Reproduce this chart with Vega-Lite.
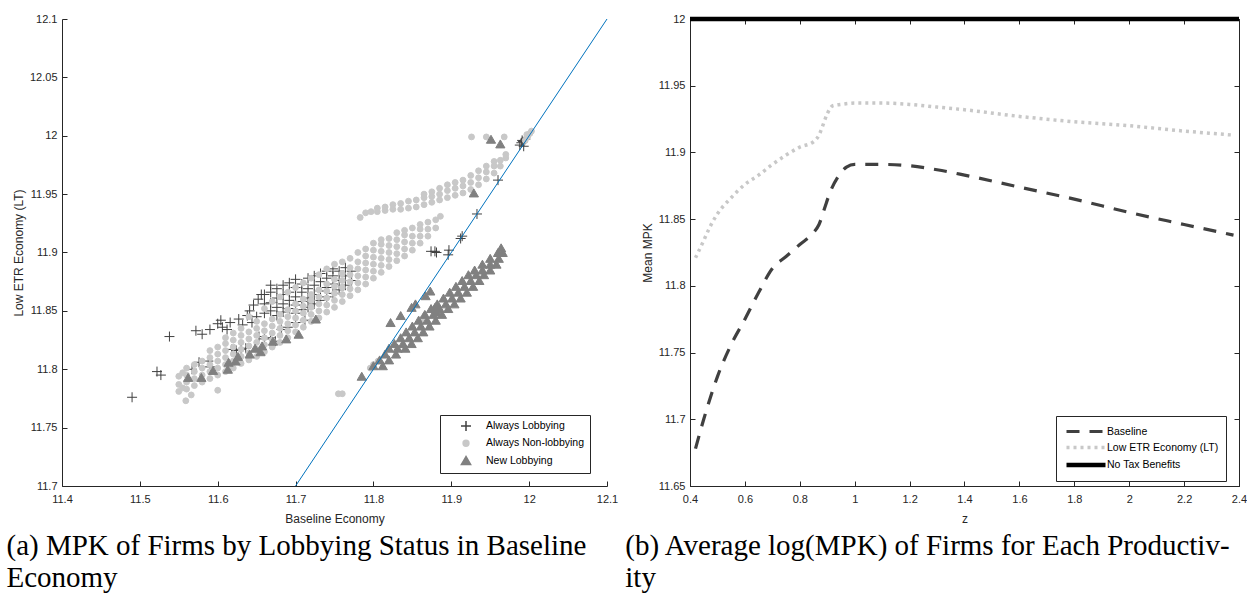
{
"$schema": "https://vega.github.io/schema/vega-lite/v6.json",
"background": "white",
"padding": {"left": 6, "top": 9, "right": 2, "bottom": 0},
"bounds": "flush",
"spacing": 83,
"resolve": {"scale": {"color": "independent", "stroke": "independent", "shape": "independent", "size": "independent", "strokeDash": "independent", "strokeWidth": "independent"}, "legend": {"color": "independent", "stroke": "independent", "shape": "independent", "size": "independent", "strokeDash": "independent", "strokeWidth": "independent"}},
"config": {
  "view": {"stroke": null},
  "font": "Liberation Sans",
  "axis": {"tickSize": -5, "labelPadding": 10, "domainColor": "#262626", "tickColor": "#262626", "labelFont": "Liberation Sans", "titleFont": "Liberation Sans", "labelFontSize": 11, "titleFontSize": 12, "titleFontWeight": "normal", "labelColor": "#262626", "titleColor": "#262626", "grid": false, "labelFlush": false, "labelOverlap": false},
  "axisX": {"labelPadding": 12, "titlePadding": 9},
  "axisY": {"titlePadding": 4},
  "legend": {"strokeColor": "#262626", "fillColor": "white", "labelFont": "Liberation Sans", "labelFontSize": 10.5, "labelColor": "black"}
},
"datasets": {
"sc": [
{"x":11.490,"y":11.776,"g":"L"},{"x":11.522,"y":11.798,"g":"L"},{"x":11.527,"y":11.795,"g":"L"},{"x":11.538,"y":11.828,"g":"L"},{"x":11.567,"y":11.800,"g":"L"},{"x":11.572,"y":11.833,"g":"L"},{"x":11.580,"y":11.830,"g":"L"},{"x":11.576,"y":11.806,"g":"L"},{"x":11.588,"y":11.807,"g":"L"},{"x":11.590,"y":11.802,"g":"L"},{"x":11.590,"y":11.834,"g":"L"},{"x":11.600,"y":11.839,"g":"L"},{"x":11.604,"y":11.842,"g":"L"},{"x":11.606,"y":11.836,"g":"L"},{"x":11.612,"y":11.834,"g":"L"},{"x":11.616,"y":11.840,"g":"L"},{"x":11.618,"y":11.817,"g":"L"},{"x":11.624,"y":11.816,"g":"L"},{"x":11.630,"y":11.817,"g":"L"},{"x":11.636,"y":11.818,"g":"L"},{"x":11.627,"y":11.843,"g":"L"},{"x":11.632,"y":11.838,"g":"L"},{"x":11.638,"y":11.846,"g":"L"},{"x":11.644,"y":11.840,"g":"L"},{"x":11.641,"y":11.850,"g":"L"},{"x":11.646,"y":11.855,"g":"L"},{"x":11.650,"y":11.845,"g":"L"},{"x":11.652,"y":11.860,"g":"L"},{"x":11.656,"y":11.864,"g":"L"},{"x":11.653,"y":11.828,"g":"L"},{"x":11.660,"y":11.826,"g":"L"},{"x":11.668,"y":11.827,"g":"L"},{"x":11.674,"y":11.824,"g":"L"},{"x":11.682,"y":11.834,"g":"L"},{"x":11.690,"y":11.836,"g":"L"},{"x":11.700,"y":11.840,"g":"L"},{"x":11.712,"y":11.842,"g":"L"},
{"x":11.660,"y":11.848,"g":"L"},{"x":11.660,"y":11.856,"g":"L"},{"x":11.660,"y":11.864,"g":"L"},
{"x":11.668,"y":11.850,"g":"L"},{"x":11.668,"y":11.857,"g":"L"},{"x":11.668,"y":11.866,"g":"L"},{"x":11.668,"y":11.872,"g":"L"},
{"x":11.676,"y":11.846,"g":"L"},{"x":11.676,"y":11.853,"g":"L"},{"x":11.676,"y":11.861,"g":"L"},{"x":11.676,"y":11.869,"g":"L"},
{"x":11.684,"y":11.849,"g":"L"},{"x":11.684,"y":11.856,"g":"L"},{"x":11.684,"y":11.864,"g":"L"},{"x":11.684,"y":11.872,"g":"L"},
{"x":11.692,"y":11.852,"g":"L"},{"x":11.692,"y":11.859,"g":"L"},{"x":11.692,"y":11.866,"g":"L"},{"x":11.692,"y":11.874,"g":"L"},
{"x":11.700,"y":11.848,"g":"L"},{"x":11.700,"y":11.855,"g":"L"},{"x":11.700,"y":11.862,"g":"L"},{"x":11.700,"y":11.870,"g":"L"},{"x":11.700,"y":11.877,"g":"L"},
{"x":11.708,"y":11.851,"g":"L"},{"x":11.708,"y":11.858,"g":"L"},{"x":11.708,"y":11.866,"g":"L"},{"x":11.708,"y":11.873,"g":"L"},
{"x":11.716,"y":11.853,"g":"L"},{"x":11.716,"y":11.861,"g":"L"},{"x":11.716,"y":11.869,"g":"L"},{"x":11.716,"y":11.878,"g":"L"},
{"x":11.724,"y":11.856,"g":"L"},{"x":11.724,"y":11.864,"g":"L"},{"x":11.724,"y":11.872,"g":"L"},{"x":11.724,"y":11.880,"g":"L"},
{"x":11.732,"y":11.859,"g":"L"},{"x":11.732,"y":11.867,"g":"L"},{"x":11.732,"y":11.875,"g":"L"},{"x":11.732,"y":11.882,"g":"L"},
{"x":11.740,"y":11.862,"g":"L"},{"x":11.740,"y":11.870,"g":"L"},{"x":11.740,"y":11.878,"g":"L"},{"x":11.740,"y":11.884,"g":"L"},
{"x":11.748,"y":11.865,"g":"L"},{"x":11.748,"y":11.873,"g":"L"},{"x":11.748,"y":11.880,"g":"L"},{"x":11.748,"y":11.886,"g":"L"},
{"x":11.756,"y":11.868,"g":"L"},{"x":11.756,"y":11.876,"g":"L"},{"x":11.756,"y":11.884,"g":"L"},
{"x":11.764,"y":11.872,"g":"L"},{"x":11.764,"y":11.880,"g":"L"},{"x":11.764,"y":11.887,"g":"L"},
{"x":11.772,"y":11.876,"g":"L"},{"x":11.772,"y":11.884,"g":"L"},
{"x":11.874,"y":11.901,"g":"L"},{"x":11.879,"y":11.901,"g":"L"},{"x":11.881,"y":11.900,"g":"L"},{"x":11.896,"y":11.898,"g":"L"},{"x":11.897,"y":11.902,"g":"L"},{"x":11.912,"y":11.912,"g":"L"},{"x":11.914,"y":11.914,"g":"L"},{"x":11.933,"y":11.933,"g":"L"},{"x":11.960,"y":11.962,"g":"L"},{"x":11.988,"y":11.992,"g":"L"},{"x":11.990,"y":11.994,"g":"L"},{"x":11.992,"y":11.995,"g":"L"},{"x":11.993,"y":11.991,"g":"L"},{"x":11.995,"y":11.997,"g":"L"},{"x":11.991,"y":11.996,"g":"L"},
{"x":11.550,"y":11.781,"g":"N"},{"x":11.550,"y":11.787,"g":"N"},{"x":11.550,"y":11.794,"g":"N"},
{"x":11.555,"y":11.784,"g":"N"},{"x":11.555,"y":11.797,"g":"N"},{"x":11.559,"y":11.773,"g":"N"},
{"x":11.560,"y":11.783,"g":"N"},{"x":11.560,"y":11.789,"g":"N"},{"x":11.560,"y":11.795,"g":"N"},{"x":11.560,"y":11.801,"g":"N"},{"x":11.566,"y":11.778,"g":"N"},
{"x":11.570,"y":11.786,"g":"N"},{"x":11.570,"y":11.792,"g":"N"},{"x":11.570,"y":11.798,"g":"N"},{"x":11.570,"y":11.804,"g":"N"},
{"x":11.580,"y":11.789,"g":"N"},{"x":11.580,"y":11.795,"g":"N"},{"x":11.580,"y":11.801,"g":"N"},{"x":11.580,"y":11.807,"g":"N"},
{"x":11.590,"y":11.792,"g":"N"},{"x":11.590,"y":11.798,"g":"N"},{"x":11.590,"y":11.804,"g":"N"},{"x":11.590,"y":11.810,"g":"N"},{"x":11.590,"y":11.816,"g":"N"},
{"x":11.600,"y":11.782,"g":"N"},{"x":11.600,"y":11.795,"g":"N"},{"x":11.600,"y":11.801,"g":"N"},{"x":11.600,"y":11.807,"g":"N"},{"x":11.600,"y":11.813,"g":"N"},{"x":11.600,"y":11.819,"g":"N"},
{"x":11.610,"y":11.798,"g":"N"},{"x":11.610,"y":11.804,"g":"N"},{"x":11.610,"y":11.810,"g":"N"},{"x":11.610,"y":11.816,"g":"N"},{"x":11.610,"y":11.822,"g":"N"},{"x":11.610,"y":11.827,"g":"N"},
{"x":11.620,"y":11.801,"g":"N"},{"x":11.620,"y":11.807,"g":"N"},{"x":11.620,"y":11.813,"g":"N"},{"x":11.620,"y":11.819,"g":"N"},{"x":11.620,"y":11.825,"g":"N"},{"x":11.620,"y":11.831,"g":"N"},
{"x":11.630,"y":11.805,"g":"N"},{"x":11.630,"y":11.811,"g":"N"},{"x":11.630,"y":11.817,"g":"N"},{"x":11.630,"y":11.823,"g":"N"},{"x":11.630,"y":11.829,"g":"N"},{"x":11.630,"y":11.835,"g":"N"},
{"x":11.640,"y":11.808,"g":"N"},{"x":11.640,"y":11.814,"g":"N"},{"x":11.640,"y":11.820,"g":"N"},{"x":11.640,"y":11.826,"g":"N"},{"x":11.640,"y":11.832,"g":"N"},{"x":11.640,"y":11.845,"g":"N"},
{"x":11.650,"y":11.811,"g":"N"},{"x":11.650,"y":11.817,"g":"N"},{"x":11.650,"y":11.823,"g":"N"},{"x":11.650,"y":11.829,"g":"N"},{"x":11.650,"y":11.835,"g":"N"},{"x":11.650,"y":11.841,"g":"N"},
{"x":11.660,"y":11.815,"g":"N"},{"x":11.660,"y":11.821,"g":"N"},{"x":11.660,"y":11.827,"g":"N"},{"x":11.660,"y":11.833,"g":"N"},{"x":11.660,"y":11.839,"g":"N"},{"x":11.660,"y":11.852,"g":"N"},
{"x":11.670,"y":11.819,"g":"N"},{"x":11.670,"y":11.825,"g":"N"},{"x":11.670,"y":11.831,"g":"N"},{"x":11.670,"y":11.837,"g":"N"},{"x":11.670,"y":11.843,"g":"N"},{"x":11.670,"y":11.858,"g":"N"},
{"x":11.680,"y":11.823,"g":"N"},{"x":11.680,"y":11.829,"g":"N"},{"x":11.680,"y":11.835,"g":"N"},{"x":11.680,"y":11.841,"g":"N"},{"x":11.680,"y":11.847,"g":"N"},{"x":11.680,"y":11.862,"g":"N"},
{"x":11.690,"y":11.827,"g":"N"},{"x":11.690,"y":11.833,"g":"N"},{"x":11.690,"y":11.839,"g":"N"},{"x":11.690,"y":11.845,"g":"N"},{"x":11.690,"y":11.851,"g":"N"},{"x":11.690,"y":11.866,"g":"N"},
{"x":11.700,"y":11.832,"g":"N"},{"x":11.700,"y":11.838,"g":"N"},{"x":11.700,"y":11.844,"g":"N"},{"x":11.700,"y":11.850,"g":"N"},{"x":11.700,"y":11.856,"g":"N"},{"x":11.700,"y":11.870,"g":"N"},
{"x":11.710,"y":11.836,"g":"N"},{"x":11.710,"y":11.842,"g":"N"},{"x":11.710,"y":11.848,"g":"N"},{"x":11.710,"y":11.854,"g":"N"},{"x":11.710,"y":11.860,"g":"N"},{"x":11.710,"y":11.874,"g":"N"},
{"x":11.720,"y":11.841,"g":"N"},{"x":11.720,"y":11.847,"g":"N"},{"x":11.720,"y":11.853,"g":"N"},{"x":11.720,"y":11.859,"g":"N"},{"x":11.720,"y":11.864,"g":"N"},{"x":11.720,"y":11.878,"g":"N"},
{"x":11.730,"y":11.844,"g":"N"},{"x":11.730,"y":11.850,"g":"N"},{"x":11.730,"y":11.856,"g":"N"},{"x":11.730,"y":11.862,"g":"N"},{"x":11.730,"y":11.868,"g":"N"},{"x":11.730,"y":11.881,"g":"N"},
{"x":11.740,"y":11.849,"g":"N"},{"x":11.740,"y":11.855,"g":"N"},{"x":11.740,"y":11.861,"g":"N"},{"x":11.740,"y":11.867,"g":"N"},{"x":11.740,"y":11.873,"g":"N"},{"x":11.740,"y":11.886,"g":"N"},
{"x":11.750,"y":11.853,"g":"N"},{"x":11.750,"y":11.859,"g":"N"},{"x":11.750,"y":11.865,"g":"N"},{"x":11.750,"y":11.871,"g":"N"},{"x":11.750,"y":11.877,"g":"N"},{"x":11.750,"y":11.890,"g":"N"},
{"x":11.760,"y":11.858,"g":"N"},{"x":11.760,"y":11.864,"g":"N"},{"x":11.760,"y":11.870,"g":"N"},{"x":11.760,"y":11.876,"g":"N"},{"x":11.760,"y":11.882,"g":"N"},{"x":11.760,"y":11.892,"g":"N"},
{"x":11.770,"y":11.863,"g":"N"},{"x":11.770,"y":11.869,"g":"N"},{"x":11.770,"y":11.875,"g":"N"},{"x":11.770,"y":11.881,"g":"N"},{"x":11.770,"y":11.887,"g":"N"},{"x":11.770,"y":11.895,"g":"N"},
{"x":11.780,"y":11.868,"g":"N"},{"x":11.780,"y":11.874,"g":"N"},{"x":11.780,"y":11.880,"g":"N"},{"x":11.780,"y":11.886,"g":"N"},{"x":11.780,"y":11.892,"g":"N"},{"x":11.780,"y":11.900,"g":"N"},
{"x":11.790,"y":11.873,"g":"N"},{"x":11.790,"y":11.879,"g":"N"},{"x":11.790,"y":11.885,"g":"N"},{"x":11.790,"y":11.891,"g":"N"},{"x":11.790,"y":11.897,"g":"N"},{"x":11.790,"y":11.903,"g":"N"},
{"x":11.800,"y":11.878,"g":"N"},{"x":11.800,"y":11.884,"g":"N"},{"x":11.800,"y":11.890,"g":"N"},{"x":11.800,"y":11.896,"g":"N"},{"x":11.800,"y":11.902,"g":"N"},{"x":11.800,"y":11.908,"g":"N"},
{"x":11.810,"y":11.883,"g":"N"},{"x":11.810,"y":11.889,"g":"N"},{"x":11.810,"y":11.895,"g":"N"},{"x":11.810,"y":11.901,"g":"N"},{"x":11.810,"y":11.907,"g":"N"},{"x":11.810,"y":11.911,"g":"N"},
{"x":11.820,"y":11.888,"g":"N"},{"x":11.820,"y":11.894,"g":"N"},{"x":11.820,"y":11.900,"g":"N"},{"x":11.820,"y":11.906,"g":"N"},{"x":11.820,"y":11.912,"g":"N"},
{"x":11.830,"y":11.893,"g":"N"},{"x":11.830,"y":11.899,"g":"N"},{"x":11.830,"y":11.905,"g":"N"},{"x":11.830,"y":11.911,"g":"N"},{"x":11.830,"y":11.917,"g":"N"},
{"x":11.840,"y":11.897,"g":"N"},{"x":11.840,"y":11.903,"g":"N"},{"x":11.840,"y":11.909,"g":"N"},{"x":11.840,"y":11.915,"g":"N"},{"x":11.840,"y":11.919,"g":"N"},
{"x":11.850,"y":11.902,"g":"N"},{"x":11.850,"y":11.908,"g":"N"},{"x":11.850,"y":11.914,"g":"N"},{"x":11.850,"y":11.921,"g":"N"},
{"x":11.860,"y":11.908,"g":"N"},{"x":11.860,"y":11.914,"g":"N"},{"x":11.860,"y":11.920,"g":"N"},{"x":11.860,"y":11.924,"g":"N"},
{"x":11.870,"y":11.914,"g":"N"},{"x":11.870,"y":11.920,"g":"N"},{"x":11.870,"y":11.926,"g":"N"},
{"x":11.880,"y":11.921,"g":"N"},{"x":11.880,"y":11.928,"g":"N"},{"x":11.886,"y":11.931,"g":"N"},
{"x":11.755,"y":11.779,"g":"N"},{"x":11.760,"y":11.779,"g":"N"},{"x":11.796,"y":11.801,"g":"N"},{"x":11.800,"y":11.804,"g":"N"},{"x":11.806,"y":11.807,"g":"N"},{"x":11.862,"y":11.843,"g":"N"},{"x":11.866,"y":11.846,"g":"N"},
{"x":11.783,"y":11.930,"g":"N"},{"x":11.790,"y":11.934,"g":"N"},{"x":11.797,"y":11.935,"g":"N"},
{"x":11.805,"y":11.935,"g":"N"},{"x":11.805,"y":11.938,"g":"N"},{"x":11.815,"y":11.936,"g":"N"},{"x":11.815,"y":11.939,"g":"N"},
{"x":11.825,"y":11.937,"g":"N"},{"x":11.825,"y":11.941,"g":"N"},{"x":11.835,"y":11.937,"g":"N"},{"x":11.835,"y":11.942,"g":"N"},
{"x":11.845,"y":11.938,"g":"N"},{"x":11.845,"y":11.944,"g":"N"},{"x":11.855,"y":11.939,"g":"N"},{"x":11.855,"y":11.945,"g":"N"},
{"x":11.865,"y":11.941,"g":"N"},{"x":11.865,"y":11.947,"g":"N"},{"x":11.865,"y":11.950,"g":"N"},
{"x":11.875,"y":11.943,"g":"N"},{"x":11.875,"y":11.948,"g":"N"},{"x":11.875,"y":11.952,"g":"N"},
{"x":11.885,"y":11.945,"g":"N"},{"x":11.885,"y":11.950,"g":"N"},{"x":11.885,"y":11.955,"g":"N"},
{"x":11.895,"y":11.947,"g":"N"},{"x":11.895,"y":11.953,"g":"N"},{"x":11.895,"y":11.958,"g":"N"},
{"x":11.905,"y":11.949,"g":"N"},{"x":11.905,"y":11.955,"g":"N"},{"x":11.905,"y":11.960,"g":"N"},
{"x":11.915,"y":11.951,"g":"N"},{"x":11.915,"y":11.957,"g":"N"},{"x":11.915,"y":11.962,"g":"N"},
{"x":11.925,"y":11.954,"g":"N"},{"x":11.925,"y":11.960,"g":"N"},{"x":11.925,"y":11.966,"g":"N"},
{"x":11.935,"y":11.958,"g":"N"},{"x":11.935,"y":11.964,"g":"N"},{"x":11.935,"y":11.970,"g":"N"},
{"x":11.945,"y":11.963,"g":"N"},{"x":11.945,"y":11.969,"g":"N"},{"x":11.945,"y":11.974,"g":"N"},
{"x":11.955,"y":11.968,"g":"N"},{"x":11.955,"y":11.974,"g":"N"},{"x":11.955,"y":11.978,"g":"N"},
{"x":11.963,"y":11.974,"g":"N"},{"x":11.963,"y":11.979,"g":"N"},{"x":11.970,"y":11.981,"g":"N"},{"x":11.970,"y":11.984,"g":"N"},
{"x":11.926,"y":11.999,"g":"N"},{"x":11.945,"y":11.999,"g":"N"},{"x":11.968,"y":11.999,"g":"N"},{"x":11.995,"y":11.996,"g":"N"},{"x":11.998,"y":11.999,"g":"N"},{"x":12.001,"y":12.002,"g":"N"},{"x":12.003,"y":12.004,"g":"N"},{"x":11.997,"y":12.001,"g":"N"},
{"x":11.562,"y":11.793,"g":"T"},{"x":11.579,"y":11.793,"g":"T"},{"x":11.594,"y":11.799,"g":"T"},{"x":11.613,"y":11.800,"g":"T"},{"x":11.614,"y":11.806,"g":"T"},{"x":11.623,"y":11.807,"g":"T"},{"x":11.626,"y":11.811,"g":"T"},{"x":11.641,"y":11.813,"g":"T"},{"x":11.648,"y":11.818,"g":"T"},{"x":11.655,"y":11.815,"g":"T"},{"x":11.657,"y":11.820,"g":"T"},{"x":11.671,"y":11.824,"g":"T"},{"x":11.688,"y":11.826,"g":"T"},{"x":11.704,"y":11.830,"g":"T"},{"x":11.726,"y":11.843,"g":"T"},
{"x":11.785,"y":11.794,"g":"T"},{"x":11.822,"y":11.840,"g":"T"},{"x":11.835,"y":11.846,"g":"T"},{"x":11.849,"y":11.853,"g":"T"},{"x":11.854,"y":11.856,"g":"T"},{"x":11.867,"y":11.863,"g":"T"},{"x":11.873,"y":11.867,"g":"T"},{"x":11.879,"y":11.853,"g":"T"},{"x":11.881,"y":11.849,"g":"T"},{"x":11.929,"y":11.951,"g":"T"},{"x":11.951,"y":11.997,"g":"T"},{"x":11.963,"y":11.993,"g":"T"},
{"x":11.800,"y":11.803,"g":"T"},{"x":11.812,"y":11.803,"g":"T"},
{"x":11.808,"y":11.808,"g":"T"},{"x":11.820,"y":11.808,"g":"T"},
{"x":11.815,"y":11.813,"g":"T"},{"x":11.829,"y":11.813,"g":"T"},
{"x":11.820,"y":11.818,"g":"T"},{"x":11.831,"y":11.818,"g":"T"},{"x":11.841,"y":11.818,"g":"T"},
{"x":11.827,"y":11.822,"g":"T"},{"x":11.838,"y":11.822,"g":"T"},{"x":11.849,"y":11.822,"g":"T"},
{"x":11.835,"y":11.827,"g":"T"},{"x":11.846,"y":11.827,"g":"T"},{"x":11.857,"y":11.827,"g":"T"},
{"x":11.842,"y":11.832,"g":"T"},{"x":11.853,"y":11.832,"g":"T"},{"x":11.864,"y":11.832,"g":"T"},
{"x":11.850,"y":11.837,"g":"T"},{"x":11.861,"y":11.837,"g":"T"},{"x":11.872,"y":11.837,"g":"T"},
{"x":11.858,"y":11.842,"g":"T"},{"x":11.869,"y":11.842,"g":"T"},{"x":11.880,"y":11.842,"g":"T"},
{"x":11.866,"y":11.847,"g":"T"},{"x":11.877,"y":11.847,"g":"T"},{"x":11.888,"y":11.847,"g":"T"},
{"x":11.874,"y":11.852,"g":"T"},{"x":11.885,"y":11.852,"g":"T"},{"x":11.896,"y":11.852,"g":"T"},
{"x":11.882,"y":11.856,"g":"T"},{"x":11.893,"y":11.856,"g":"T"},{"x":11.904,"y":11.856,"g":"T"},
{"x":11.890,"y":11.861,"g":"T"},{"x":11.901,"y":11.861,"g":"T"},{"x":11.912,"y":11.861,"g":"T"},
{"x":11.898,"y":11.866,"g":"T"},{"x":11.909,"y":11.866,"g":"T"},{"x":11.920,"y":11.866,"g":"T"},
{"x":11.906,"y":11.871,"g":"T"},{"x":11.917,"y":11.871,"g":"T"},{"x":11.928,"y":11.871,"g":"T"},
{"x":11.914,"y":11.876,"g":"T"},{"x":11.925,"y":11.876,"g":"T"},{"x":11.936,"y":11.876,"g":"T"},
{"x":11.922,"y":11.881,"g":"T"},{"x":11.932,"y":11.881,"g":"T"},{"x":11.942,"y":11.881,"g":"T"},
{"x":11.930,"y":11.885,"g":"T"},{"x":11.940,"y":11.885,"g":"T"},{"x":11.950,"y":11.885,"g":"T"},
{"x":11.940,"y":11.890,"g":"T"},{"x":11.950,"y":11.890,"g":"T"},{"x":11.958,"y":11.890,"g":"T"},
{"x":11.950,"y":11.895,"g":"T"},{"x":11.961,"y":11.895,"g":"T"},
{"x":11.960,"y":11.900,"g":"T"},{"x":11.966,"y":11.900,"g":"T"},{"x":11.964,"y":11.904,"g":"T"}
],
"ln": [
{"z":0.42,"v":11.678,"s":"B"},{"z":0.45,"v":11.700,"s":"B"},{"z":0.5,"v":11.732,"s":"B"},{"z":0.55,"v":11.756,"s":"B"},{"z":0.6,"v":11.775,"s":"B"},{"z":0.65,"v":11.795,"s":"B"},{"z":0.7,"v":11.813,"s":"B"},{"z":0.75,"v":11.822,"s":"B"},{"z":0.8,"v":11.831,"s":"B"},{"z":0.85,"v":11.840,"s":"B"},{"z":0.87,"v":11.846,"s":"B"},{"z":0.89,"v":11.858,"s":"B"},{"z":0.91,"v":11.870,"s":"B"},{"z":0.94,"v":11.882,"s":"B"},{"z":0.97,"v":11.889,"s":"B"},{"z":1.0,"v":11.891,"s":"B"},{"z":1.1,"v":11.891,"s":"B"},{"z":1.2,"v":11.890,"s":"B"},{"z":1.3,"v":11.887,"s":"B"},{"z":1.4,"v":11.883,"s":"B"},{"z":1.6,"v":11.874,"s":"B"},{"z":1.8,"v":11.865,"s":"B"},{"z":2.0,"v":11.855,"s":"B"},{"z":2.2,"v":11.846,"s":"B"},{"z":2.38,"v":11.838,"s":"B"},
{"z":0.42,"v":11.821,"s":"E"},{"z":0.45,"v":11.834,"s":"E"},{"z":0.47,"v":11.843,"s":"E"},{"z":0.5,"v":11.854,"s":"E"},{"z":0.55,"v":11.866,"s":"E"},{"z":0.6,"v":11.876,"s":"E"},{"z":0.65,"v":11.883,"s":"E"},{"z":0.7,"v":11.891,"s":"E"},{"z":0.75,"v":11.898,"s":"E"},{"z":0.8,"v":11.904,"s":"E"},{"z":0.85,"v":11.908,"s":"E"},{"z":0.87,"v":11.913,"s":"E"},{"z":0.88,"v":11.918,"s":"E"},{"z":0.9,"v":11.929,"s":"E"},{"z":0.92,"v":11.935,"s":"E"},{"z":0.95,"v":11.936,"s":"E"},{"z":1.0,"v":11.937,"s":"E"},{"z":1.1,"v":11.937,"s":"E"},{"z":1.2,"v":11.936,"s":"E"},{"z":1.3,"v":11.934,"s":"E"},{"z":1.4,"v":11.932,"s":"E"},{"z":1.6,"v":11.927,"s":"E"},{"z":1.8,"v":11.923,"s":"E"},{"z":2.0,"v":11.920,"s":"E"},{"z":2.2,"v":11.916,"s":"E"},{"z":2.38,"v":11.913,"s":"E"},
{"z":0.4,"v":12,"s":"X"},{"z":2.4,"v":12,"s":"X"}
]
},
"hconcat": [
{
  "width": 545, "height": 467,
  "title": {"text": ["(a) MPK of Firms by Lobbying Status in Baseline", "Economy"], "orient": "bottom", "anchor": "start", "frame": "bounds", "font": "Liberation Serif", "fontSize": 29, "fontWeight": "normal", "color": "black", "lineHeight": 32, "offset": 8, "dx": -6},
  "layer": [
    {
      "data": {"name": "sc"},
      "mark": {"type": "point", "filled": true, "opacity": 1, "strokeWidth": 1},
      "encoding": {
        "x": {"field": "x", "type": "quantitative", "scale": {"domain": [11.4, 12.1], "nice": false, "zero": false}, "axis": {"values": [11.4, 11.5, 11.6, 11.7, 11.8, 11.9, 12, 12.1], "format": "~g", "title": "Baseline Economy"}},
        "y": {"field": "y", "type": "quantitative", "scale": {"domain": [11.7, 12.1], "nice": false, "zero": false}, "axis": {"values": [11.7, 11.75, 11.8, 11.85, 11.9, 11.95, 12, 12.05, 12.1], "format": "~g", "title": "Low ETR Economy (LT)"}},
        "color": {"field": "g", "type": "nominal", "scale": {"domain": ["L", "N", "T"], "range": ["#404040", "#c8c8c8", "#808080"]},
          "legend": {"title": null, "orient": "none", "legendX": 378, "legendY": 396, "labelExpr": "datum.label == 'L' ? 'Always Lobbying' : datum.label == 'N' ? 'Always Non-lobbying' : 'New Lobbying'", "padding": 5, "symbolOffset": 15, "labelOffset": 14, "rowPadding": 3}},
        "stroke": {"field": "g", "type": "nominal", "scale": {"domain": ["L", "N", "T"], "range": ["#404040", "#c8c8c8", "#808080"]}},
        "shape": {"field": "g", "type": "nominal", "scale": {"domain": ["L", "N", "T"], "range": ["M-1,0H1M0,-1V1", "circle", "triangle-up"]}},
        "size": {"field": "g", "type": "nominal", "scale": {"type": "ordinal", "domain": ["L", "N", "T"], "range": [100, 34, 85]}}
      }
    },
    {
      "data": {"values": [{"x": 11.7, "y": 11.7}, {"x": 12.1, "y": 12.1}]},
      "mark": {"type": "line", "color": "#0072BD", "strokeWidth": 1},
      "encoding": {"x": {"field": "x", "type": "quantitative"}, "y": {"field": "y", "type": "quantitative"}}
    }
  ]
},
{
  "width": 549, "height": 467,
  "view": {"stroke": "#262626", "strokeWidth": 1},
  "title": {"text": ["(b) Average log(MPK) of Firms for Each Productiv-", "ity"], "orient": "bottom", "anchor": "start", "frame": "bounds", "font": "Liberation Serif", "fontSize": 29, "fontWeight": "normal", "color": "black", "lineHeight": 32, "offset": 8, "dx": -16},
  "resolve": {"axis": {"x": "independent", "y": "independent"}},
  "layer": [
    {
      "data": {"name": "ln"},
      "mark": {"type": "line", "interpolate": "monotone", "strokeCap": "butt"},
      "encoding": {
        "x": {"field": "z", "type": "quantitative", "scale": {"domain": [0.4, 2.4], "nice": false, "zero": false}, "axis": {"values": [0.4, 0.6, 0.8, 1, 1.2, 1.4, 1.6, 1.8, 2, 2.2, 2.4], "format": "~g", "title": "z"}},
        "y": {"field": "v", "type": "quantitative", "scale": {"domain": [11.65, 12], "nice": false, "zero": false}, "axis": {"values": [11.65, 11.7, 11.75, 11.8, 11.85, 11.9, 11.95, 12], "format": "~g", "title": "Mean MPK"}},
        "color": {"field": "s", "type": "nominal", "scale": {"domain": ["B", "E", "X"], "range": ["#404040", "#c8c8c8", "#000000"]},
          "legend": {"title": null, "orient": "none", "legendX": 366, "legendY": 397, "labelExpr": "datum.label == 'B' ? 'Baseline' : datum.label == 'E' ? 'Low ETR Economy (LT)' : 'No Tax Benefits'", "symbolType": "M-3,0H3", "symbolSize": 169, "symbolOffset": 14, "padding": 7, "labelOffset": 12, "rowPadding": 1}},
        "strokeDash": {"field": "s", "type": "nominal", "scale": {"domain": ["B", "E", "X"], "range": [[13, 10], [3, 4], [1, 0]]}},
        "strokeWidth": {"field": "s", "type": "nominal", "scale": {"type": "ordinal", "domain": ["B", "E", "X"], "range": [3.2, 3.5, 4.5]}}
      }
    },
    {
      "data": {"name": "ln"},
      "mark": {"type": "line", "opacity": 0},
      "encoding": {
        "x": {"field": "z", "type": "quantitative", "axis": {"orient": "top", "labels": false, "title": null, "domain": true, "ticks": true, "values": [0.4, 0.6, 0.8, 1, 1.2, 1.4, 1.6, 1.8, 2, 2.2, 2.4]}},
        "y": {"field": "v", "type": "quantitative", "axis": {"orient": "right", "labels": false, "title": null, "domain": true, "ticks": true, "values": [11.65, 11.7, 11.75, 11.8, 11.85, 11.9, 11.95, 12]}}
      }
    }
  ]
}
]
}
